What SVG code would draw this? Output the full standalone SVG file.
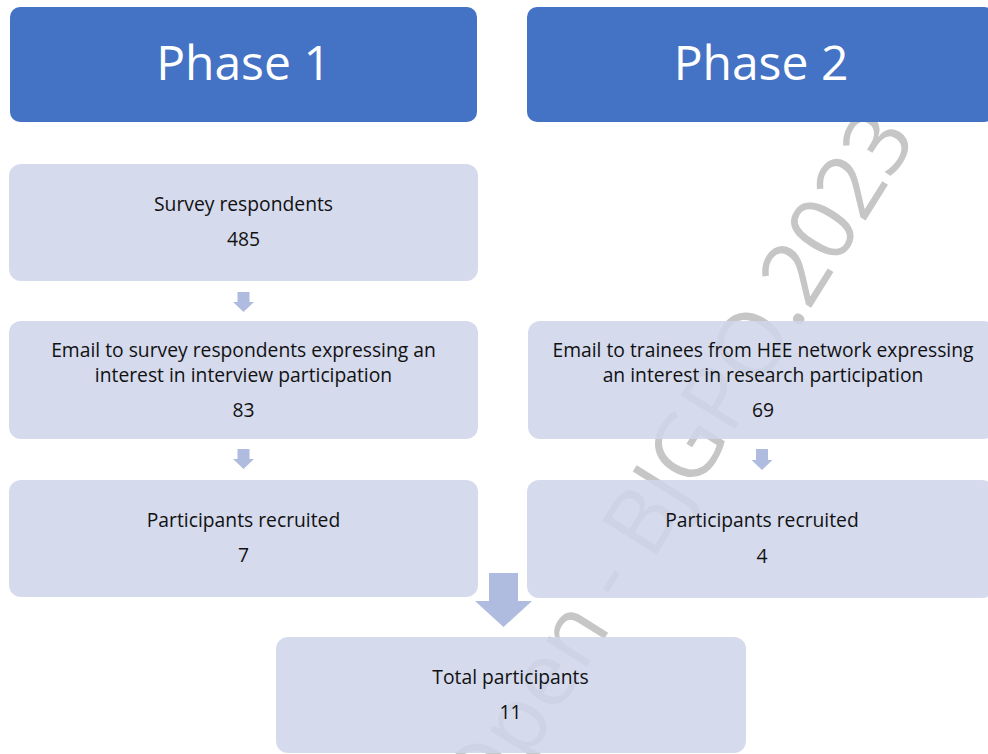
<svg xmlns="http://www.w3.org/2000/svg" width="988" height="754" viewBox="0 0 988 754">
<style>
.phase{fill:#4472C4}
.node{fill:#CFD5EA;fill-opacity:0.88}
.ptxt{font-family:"Open Sans","Liberation Sans",sans-serif;font-size:48px;fill:#FFFFFF;text-anchor:middle}
.txt{font-family:"Open Sans","Liberation Sans",sans-serif;font-size:19.3px;fill:#111111;text-anchor:middle}
.arr{fill:#AFBCDF}
.wm{font-family:"Open Sans","Liberation Sans",sans-serif;font-weight:400;font-size:90px;fill:#C6C6C6;text-anchor:middle}
</style>
<rect width="988" height="754" fill="#FFFFFF"/>
<text class="wm" transform="translate(644,575) rotate(-58)">BJGP Open - BJGPO.2023</text>
<g id="phase1"><rect class="phase" x="10" y="7" width="467" height="115" rx="10"/><text class="ptxt" x="243.5" y="80">Phase 1</text></g>
<g id="phase2"><rect class="phase" x="527" y="7" width="467" height="115" rx="10"/><text class="ptxt" x="761" y="80">Phase 2</text></g>
<g id="survey"><rect class="node" x="9" y="164" width="469" height="117" rx="12"/><text class="txt" x="243.5" y="211">Survey respondents</text><text class="txt" x="243.5" y="246">485</text></g>
<g id="email1"><rect class="node" x="9" y="321" width="469" height="118" rx="12"/><text class="txt" x="243.5" y="357">Email to survey respondents expressing an</text><text class="txt" x="243.5" y="382">interest in interview participation</text><text class="txt" x="243.5" y="417">83</text></g>
<g id="recruit1"><rect class="node" x="9" y="480" width="469" height="117" rx="12"/><text class="txt" x="243.5" y="527">Participants recruited</text><text class="txt" x="243.5" y="562">7</text></g>
<g id="email2"><rect class="node" x="528" y="321" width="467" height="118" rx="12"/><text class="txt" x="763" y="357">Email to trainees from HEE network expressing</text><text class="txt" x="763" y="382">an interest in research participation</text><text class="txt" x="763" y="417">69</text></g>
<g id="recruit2"><rect class="node" x="527" y="480" width="467" height="118" rx="12"/><text class="txt" x="762" y="527">Participants recruited</text><text class="txt" x="762" y="563">4</text></g>
<g id="total"><rect class="node" x="276" y="637" width="470" height="116" rx="12"/><text class="txt" x="510.5" y="684">Total participants</text><text class="txt" x="510.5" y="719">11</text></g>
<g id="connectors">
<polygon class="arr" points="237.5,292 249.5,292 249.5,302 254,302 243.5,312 233,302 237.5,302"/>
<polygon class="arr" points="237.5,449 249.5,449 249.5,459 254,459 243.5,469 233,459 237.5,459"/>
<polygon class="arr" points="756,449 768,449 768,460 772.5,460 762,470 751.5,460 756,460"/>
<polygon class="arr" points="489,573 518,573 518,601 532,601 503.5,627 475,601 489,601"/>
</g>
</svg>
